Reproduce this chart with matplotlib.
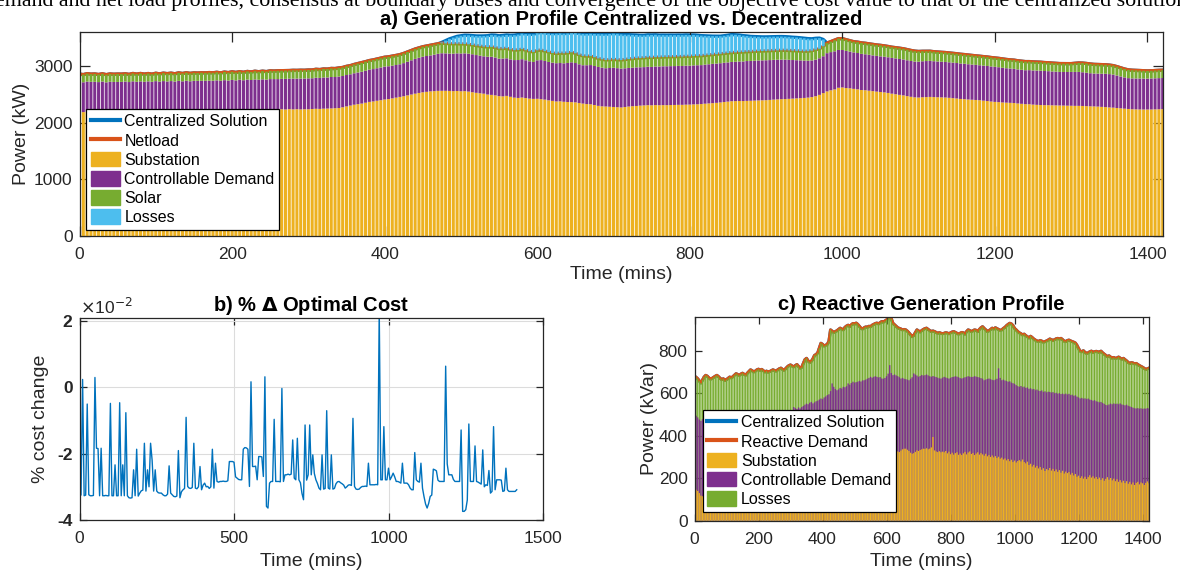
import matplotlib
matplotlib.use("Agg")
import matplotlib.pyplot as plt
import numpy as np
from matplotlib.patches import Patch
from matplotlib.lines import Line2D

plt.rcParams['font.family'] = ['Liberation Sans', 'DejaVu Sans']

# ---------------- data ----------------
times = list(range(0, 1421, 5))          # 5-minute steps, 285 bars
cost_times = list(range(0, 1416, 5))     # panel b

# a) active power components (kW)
a_substation = [
 2193,2190,2196,2200,2194,2198,2202,2196,2200,2204,2199,2203,
 2205,2201,2207,2203,2209,2206,2210,2204,2211,2208,2213,2209,
 2214,2210,2216,2212,2218,2214,2219,2215,2221,2217,2222,2219,
 2224,2220,2226,2222,2228,2224,2230,2226,2231,2228,2233,2230,
 2235,2231,2236,2238,2234,2240,2236,2242,2238,2241,2237,2240,
 2240,2244,2248,2246,2250,2252,2255,2258,2262,2275,2290,2305,
 2320,2330,2340,2355,2370,2378,2390,2400,2412,2420,2432,2445,
 2458,2470,2485,2500,2515,2528,2540,2548,2556,2560,2565,2566,
 2566,2564,2560,2563,2558,2560,2552,2541,2530,2522,2515,2500,
 2494,2485,2472,2468,2476,2460,2445,2440,2447,2438,2428,2423,
 2425,2418,2410,2398,2388,2378,2380,2372,2368,2366,2362,2350,
 2340,2332,2328,2315,2300,2292,2288,2284,2280,2276,2272,2280,
 2288,2294,2298,2304,2308,2312,2310,2314,2311,2313,2312,2315,
 2316,2318,2318,2321,2322,2326,2328,2332,2338,2343,2348,2353,
 2360,2368,2375,2382,2384,2386,2385,2388,2390,2393,2396,2398,
 2400,2405,2410,2414,2418,2420,2424,2428,2432,2436,2440,2446,
 2455,2470,2494,2525,2555,2575,2590,2620,2625,2615,2610,2600,
 2592,2580,2576,2568,2560,2552,2545,2538,2528,2515,2505,2494,
 2485,2472,2460,2450,2447,2452,2455,2458,2455,2452,2450,2447,
 2442,2436,2430,2422,2418,2412,2408,2404,2400,2392,2385,2376,
 2370,2366,2360,2356,2353,2350,2342,2336,2330,2329,2322,2318,
 2315,2312,2312,2310,2308,2306,2305,2303,2302,2300,2300,2298,
 2295,2292,2290,2287,2282,2278,2272,2268,2262,2256,2250,2245,
 2240,2238,2236,2235,2235,2236,2238,2240,2242]
a_controllable = [
 530,527,533,525,531,522,528,520,526,519,524,521,
 525,520,527,522,524,519,523,521,526,520,525,522,
 524,520,526,522,525,521,523,527,522,526,523,525,
 527,523,528,525,530,526,531,527,533,529,534,531,
 534,532,537,535,539,537,541,539,543,541,545,543,
 546,544,549,548,552,550,555,552,556,553,555,553,
 556,560,563,566,569,572,575,579,582,580,578,577,
 577,585,595,605,615,622,628,633,636,645,655,664,
 662,660,662,665,668,668,670,671,668,665,661,668,
 674,670,663,668,665,662,664,670,678,668,660,653,
 680,691,684,678,675,676,677,680,690,704,695,685,
 678,686,693,690,688,683,677,685,693,690,686,684,
 682,680,682,678,677,680,678,682,684,686,688,687,
 687,688,687,689,688,689,690,688,690,692,694,694,
 694,693,693,694,695,698,700,704,704,705,706,706,
 706,704,703,701,700,697,690,682,675,668,660,652,
 648,646,647,652,676,675,674,668,662,656,649,645,
 642,639,636,634,632,631,630,630,631,632,634,635,
 635,634,633,633,634,636,637,637,634,632,630,629,
 628,628,627,627,626,624,622,620,618,619,620,620,
 620,617,613,609,606,604,602,601,600,602,604,606,
 606,604,601,598,596,594,594,596,598,600,600,596,
 590,585,581,583,586,589,589,585,575,563,553,545,
 545,546,547,547,547,548,549,550,550]
a_solar = [
 138,135,140,136,139,134,137,135,138,136,139,137,
 137,135,138,136,139,136,138,135,139,137,140,138,
 140,137,141,138,142,139,141,138,142,140,143,140,
 142,139,143,140,144,141,143,140,144,142,145,142,
 144,142,146,143,147,144,146,143,147,145,148,146,
 148,146,149,147,150,148,151,149,152,150,153,152,
 155,157,158,160,161,162,163,164,165,166,168,169,
 170,171,172,173,174,175,176,176,177,177,177,177,
 176,175,174,170,168,166,165,164,166,168,170,172,
 174,176,177,176,177,175,176,178,177,178,177,177,
 176,176,174,173,172,170,175,177,178,176,172,168,
 165,160,158,155,150,148,146,146,148,150,152,155,
 158,160,162,163,164,165,165,165,165,164,165,166,
 165,166,165,166,165,166,165,166,165,165,165,166,
 165,166,165,166,165,165,166,165,165,166,165,165,
 165,166,165,165,164,165,165,165,166,165,165,168,
 172,178,168,176,178,185,195,200,200,198,190,188,
 192,194,194,194,194,193,194,192,190,189,189,189,
 189,188,186,184,180,176,172,170,168,167,166,166,
 165,164,164,163,162,162,161,160,160,159,158,158,
 157,156,156,155,154,154,153,152,152,151,151,150,
 150,149,149,148,148,147,147,147,146,152,158,162,
 164,163,162,161,160,159,159,158,156,152,148,146,
 145,143,140,138,136,136,137,138,138]
a_losses = [0] * 95 + [
 15,
 50,85,110,130,145,155,160,165,172,180,190,200,
 210,218,226,232,235,250,265,272,276,285,300,310,
 305,312,320,330,340,353,350,348,345,348,362,375,
 388,392,395,410,430,445,454,456,457,458,454,440,
 430,420,410,402,398,398,400,395,390,388,385,383,
 382,380,380,378,376,372,365,355,345,335,325,318,
 312,312,315,318,312,302,290,278,268,260,254,250,
 248,246,245,244,243,241,240,238,236,234,230,222,
 210,200,188,120] + [0] * 89

# b) % change of optimal cost (x 10^-2)
cost_change = [
 -2.30,-3.25,0.23,-3.27,-3.25,-0.51,-3.24,-3.27,-3.27,-3.26,0.29,-1.84,
 -1.85,-3.27,-1.84,-3.27,-3.27,-3.26,-3.27,-3.27,-0.49,-3.27,-3.27,-2.34,
 -3.27,-3.27,-0.47,-3.27,-2.34,-3.27,-0.77,-3.27,-3.33,-3.34,-3.33,-2.49,
 -3.27,-1.87,-3.28,-3.19,-3.12,-3.10,-1.69,-3.13,-2.49,-3.00,-1.69,-2.20,
 -3.13,-2.49,-3.13,-3.18,-3.19,-3.19,-3.24,-3.27,-3.27,-3.22,-2.37,-3.19,
 -3.24,-3.29,-3.30,-3.28,-1.91,-3.33,-3.15,-3.09,-3.05,-0.91,-2.99,-3.04,
 -3.05,-3.02,-1.69,-3.04,-3.06,-3.00,-2.39,-3.09,-2.95,-2.89,-3.00,-2.99,
 -3.05,-3.00,-1.87,-3.04,-2.29,-2.84,-2.86,-2.84,-2.84,-2.83,-2.84,-2.84,
 -2.82,-2.24,-2.24,-2.24,-2.26,-2.70,-2.74,-2.78,-2.79,-2.79,-1.87,-1.82,
 -1.83,-1.87,-2.99,0.16,-2.39,-2.39,-2.38,-2.79,-2.09,-2.09,-2.10,-2.69,
 0.31,-3.59,-3.64,-2.89,-2.84,-2.84,-0.97,-2.84,-2.84,-2.84,-2.85,-0.04,
 -2.84,-2.64,-2.64,-2.62,-2.64,-2.62,-1.59,-2.74,-2.79,-1.54,-2.79,-2.88,
 -3.20,-3.39,-1.14,-2.80,-2.64,-1.14,-2.64,-2.04,-2.60,-2.79,-2.90,-3.04,
 -3.09,-2.04,-3.07,-3.05,-0.71,-3.04,-3.07,-2.04,-3.07,-3.05,-2.91,-2.85,
 -2.84,-2.88,-2.91,-2.95,-3.04,-3.00,-2.95,-2.94,-2.96,-0.94,-2.99,-3.07,
 -3.08,-3.07,-3.02,-2.99,-2.99,-2.98,-2.99,-2.29,-2.94,-2.94,-2.94,-2.94,
 -2.93,-2.94,2.30,-2.79,-2.79,-1.19,-2.79,-2.79,-2.44,-2.79,-2.70,-2.59,
 -2.70,-2.84,-2.84,-2.86,-2.89,-2.29,-2.89,-2.89,-2.89,-2.94,-3.04,-3.09,
 -3.09,-1.97,-2.79,-2.84,-2.86,-2.29,-3.04,-3.30,-3.52,-3.64,-3.50,-3.29,
 -3.25,-2.47,-2.49,-2.52,-2.80,-2.84,-2.84,-2.84,-2.84,0.63,-2.31,-2.64,
 -2.64,-2.64,-2.78,-2.84,-2.84,-2.84,-2.84,-1.29,-3.74,-3.74,-3.69,-3.40,
 -1.11,-2.84,-2.84,-2.84,-1.77,-2.84,-2.86,-2.89,-2.92,-1.89,-3.00,-2.94,
 -2.96,-2.51,-3.19,-3.14,-1.19,-3.09,-2.79,-2.79,-2.79,-2.80,-3.14,-3.12,
 -2.44,-3.09,-3.14,-3.14,-3.14,-3.14,-3.14,-3.09]

# c) reactive power, stacked levels (kVar)
c_substation_top = [
 150,146,140,130,118,115,120,124,128,130,132,135,
 138,141,137,144,146,143,149,151,148,155,153,158,
 161,157,165,163,168,166,171,169,174,172,177,175,
 181,178,184,186,183,189,192,188,195,193,198,196,
 201,199,205,203,208,206,211,214,210,217,215,220,
 223,219,226,229,225,232,235,231,238,241,237,244,
 247,243,250,253,249,256,259,262,258,265,268,264,
 271,274,270,277,280,276,283,286,282,289,292,288,
 295,298,294,301,304,300,307,310,306,313,316,312,
 318,321,317,323,326,322,328,331,327,333,330,326,
 330,333,336,331,328,325,322,326,323,330,336,339,
 339,334,328,320,315,318,324,331,328,333,336,339,
 338,341,336,339,345,394,331,326,323,327,322,325,
 322,328,317,325,313,320,311,318,322,310,316,309,
 317,324,312,321,326,314,319,309,316,322,311,318,
 312,306,315,303,309,300,307,298,304,295,301,292,
 297,288,293,284,290,280,287,276,283,274,281,285,
 279,288,276,270,278,262,268,255,263,250,258,246,
 253,240,247,234,243,238,248,236,244,233,241,230,
 238,226,235,222,231,224,229,217,225,213,220,207,
 212,201,209,198,207,196,205,214,203,209,199,206,
 196,203,192,200,188,197,205,193,201,190,198,186,
 195,183,191,180,188,177,186,174,183,171,180,168,
 178,183,171,180,176,168,178,185,176]
c_controllable_top = [
 498,494,486,476,470,478,484,486,482,488,485,487,
 484,489,486,491,488,485,490,487,492,489,494,491,
 488,493,490,495,492,497,494,491,496,493,498,495,
 492,497,500,496,501,498,503,500,497,502,505,501,
 506,503,508,511,507,512,509,514,511,508,513,516,
 512,518,535,530,526,533,528,535,540,546,551,548,
 555,559,552,557,562,565,570,575,572,580,585,591,
 595,610,646,630,620,614,618,625,622,630,628,633,
 646,640,648,654,650,652,654,658,655,660,661,664,
 668,672,677,673,677,680,677,674,676,669,668,672,
 680,692,732,695,685,688,684,680,675,669,672,668,
 666,664,661,668,675,693,688,683,677,681,686,683,
 685,688,684,680,677,681,678,676,673,670,669,673,
 677,674,671,669,672,676,677,680,678,675,671,669,
 672,675,677,680,678,676,677,680,678,676,674,671,
 668,661,664,667,669,666,663,661,664,668,717,672,
 661,664,660,657,654,656,650,647,644,638,633,630,
 634,628,631,625,627,621,623,618,620,614,617,612,
 610,613,606,609,604,607,606,603,605,600,602,598,
 600,596,598,595,598,594,597,591,593,588,590,584,
 580,575,578,574,576,572,575,570,568,565,567,562,
 560,557,559,554,550,545,543,547,551,548,552,549,
 551,548,552,547,545,543,546,541,538,535,532,529,
 528,530,527,529,526,528,527,530,528]
c_reactive_demand = [
 680,675,668,658,648,662,676,684,680,672,666,670,
 675,680,684,678,670,664,668,660,664,670,676,672,
 678,685,692,688,684,690,694,689,685,694,702,710,
 706,700,704,710,713,708,712,706,700,704,699,702,
 706,710,707,704,710,715,718,712,708,716,724,730,
 733,728,724,730,735,726,718,722,740,758,764,752,
 745,750,762,778,782,790,812,835,830,822,826,830,
 845,898,892,886,890,894,900,906,902,898,910,916,
 920,914,922,928,925,930,924,915,906,902,908,912,
 910,915,913,920,924,928,930,926,932,937,934,940,
 945,952,960,950,929,922,915,908,905,902,898,900,
 898,892,884,875,866,872,885,898,893,888,895,900,
 904,906,900,895,890,893,890,886,882,885,882,880,
 882,885,883,880,884,888,890,886,882,878,882,886,
 884,878,890,898,895,890,894,898,896,890,900,908,
 913,905,898,890,894,900,906,902,908,904,900,896,
 898,905,910,918,924,929,926,918,905,898,890,884,
 880,874,878,871,866,860,868,862,855,850,846,843,
 848,845,840,843,846,850,855,852,848,852,856,858,
 855,858,852,845,843,848,850,846,843,840,836,825,
 810,798,795,800,792,787,790,795,798,792,795,797,
 795,792,798,790,784,778,772,776,770,765,768,764,
 766,770,765,760,764,758,752,745,740,744,742,738,
 740,735,730,726,722,717,712,715,718]

legend_a = ['Centralized Solution', 'Netload', 'Substation',
            'Controllable Demand', 'Solar', 'Losses']
legend_c = ['Centralized Solution', 'Reactive Demand', 'Substation',
            'Controllable Demand', 'Losses']

# ---------------- style ----------------
C_BLUE, C_ORANGE = '#0072BD', '#D95319'
C_YELLOW, C_PURPLE, C_GREEN, C_LBLUE = '#EDB120', '#7E2F8E', '#77AC30', '#4DBEEE'
AX_COL = '#262626'
TICK_FS, LAB_FS, TIT_FS, LEG_FS = 12.5, 14, 14.5, 11.5

W, H = 1180, 571
fig = plt.figure(figsize=(W / 100, H / 100), dpi=100)


def px_axes(l, t, r, b):
    return fig.add_axes([l / W, 1 - b / H, (r - l) / W, (b - t) / H])


def style(ax, ticklen=6):
    for s in ax.spines.values():
        s.set_color(AX_COL)
        s.set_linewidth(0.9)
    ax.tick_params(direction='in', top=True, right=True, length=ticklen,
                   width=0.9, color=AX_COL, labelcolor=AX_COL,
                   labelsize=TICK_FS, pad=5)
    ax.tick_params(axis='x', pad=8)


def bars(ax, xs, h, bottom=None, color=None, z=2):
    ax.bar(xs, h, bottom=bottom, width=4.0, color=color, linewidth=0,
           zorder=z, snap=False)


def make_legend(ax, handles, labels, anchor):
    lg = ax.legend(handles, labels, loc='lower left', bbox_to_anchor=anchor,
                   fontsize=LEG_FS, frameon=True, fancybox=False, framealpha=1,
                   edgecolor='black', borderpad=0.3, labelspacing=0.22,
                   handlelength=1.8, handleheight=1.0, handletextpad=0.3,
                   borderaxespad=0)
    lg.get_frame().set_linewidth(0.9)
    lg.set_zorder(5)
    return lg


fig.text(-16 / W, 1 - 6 / H,
         'demand and net load profiles, consensus at boundary buses and convergence of the '
         'objective cost value to that of the centralized solution.',
         family='Liberation Serif', fontsize=15.8, ha='left', va='baseline', color='black')

x = np.array(times)
sub = np.array(a_substation)
ctrl = np.array(a_controllable)
sol = np.array(a_solar)
los = np.array(a_losses)

# ---------- a) ----------
ax = px_axes(79.5, 32.3, 1162.7, 236)
ax.plot(x, sub + ctrl + sol + los, color=C_BLUE, lw=2.4, zorder=1)
ax.plot(x, sub + ctrl + sol, color=C_ORANGE, lw=2.4, zorder=1.5)
bars(ax, x, sub, color=C_YELLOW)
bars(ax, x, ctrl, bottom=sub, color=C_PURPLE)
bars(ax, x, sol, bottom=sub + ctrl, color=C_GREEN)
bars(ax, x, los, bottom=sub + ctrl + sol, color=C_LBLUE)
ax.set_xlim(0, 1420)
ax.set_ylim(0, 3600)
ax.set_xticks(range(0, 1401, 200))
ax.set_yticks([0, 1000, 2000, 3000])
style(ax, 7)
ax.set_title('a) Generation Profile Centralized vs. Decentralized',
             fontsize=TIT_FS, fontweight='bold', pad=5, color='black')
ax.set_xlabel('Time (mins)', fontsize=LAB_FS, color=AX_COL)
ax.set_ylabel('Power (kW)', fontsize=LAB_FS, color=AX_COL)
ax.xaxis.set_label_coords(0.5, -0.145)
ax.yaxis.set_label_coords(-0.046, 0.5)
handles = [Line2D([], [], color=C_BLUE, lw=3), Line2D([], [], color=C_ORANGE, lw=3),
           Patch(color=C_YELLOW), Patch(color=C_PURPLE), Patch(color=C_GREEN),
           Patch(color=C_LBLUE)]
make_legend(ax, handles, legend_a, (0.006, 0.03))

# ---------- b) ----------
axb = px_axes(79.5, 318, 543, 520)
axb.plot(cost_times, cost_change, color=C_BLUE, lw=1.0)
axb.set_xlim(0, 1500)
axb.set_ylim(-4, 2.08)
axb.set_xticks([0, 500, 1000, 1500])
axb.set_yticks([-4, -2, 0, 2])
axb.set_yticklabels(['-4', '-2', '0', '2'])
axb.grid(True, color='#dcdcdc', lw=0.8)
axb.set_axisbelow(True)
style(axb, 5)
for lab in axb.get_yticklabels():
    lab.set_fontweight('bold')
axb.set_title('b) % $\\mathbf{\\Delta}$ Optimal Cost', fontsize=TIT_FS,
              fontweight='bold', pad=5, color='black')
axb.text(0.0, 1.005, '$\\times$10$^{-2}$', transform=axb.transAxes,
         fontsize=TICK_FS, color=AX_COL, ha='left', va='bottom')
axb.set_xlabel('Time (mins)', fontsize=LAB_FS, color=AX_COL)
axb.set_ylabel('% cost change', fontsize=LAB_FS, color=AX_COL)
axb.xaxis.set_label_coords(0.5, -0.165)
axb.yaxis.set_label_coords(-0.066, 0.5)

# ---------- c) ----------
axc = px_axes(694.5, 316.7, 1149, 520.7)
qt = np.array(c_reactive_demand)
qc = np.array(c_controllable_top)
qs = np.array(c_substation_top)
axc.plot(x, qt, color=C_BLUE, lw=2.2, zorder=1)
axc.plot(x, qt, color=C_ORANGE, lw=2.2, zorder=1.5)
bars(axc, x, qt, color=C_GREEN, z=2)
bars(axc, x, qc, color=C_PURPLE, z=2.1)
bars(axc, x, qs, color=C_YELLOW, z=2.2)
axc.set_xlim(0, 1420)
axc.set_ylim(0, 960)
axc.set_xticks(range(0, 1401, 200))
axc.set_yticks([0, 200, 400, 600, 800])
style(axc, 5)
axc.set_title('c) Reactive Generation Profile', fontsize=TIT_FS,
              fontweight='bold', pad=5, color='black')
axc.set_xlabel('Time (mins)', fontsize=LAB_FS, color=AX_COL)
axc.set_ylabel('Power (kVar)', fontsize=LAB_FS, color=AX_COL)
axc.xaxis.set_label_coords(0.5, -0.16)
axc.yaxis.set_label_coords(-0.080, 0.5)
handles_c = [Line2D([], [], color=C_BLUE, lw=3), Line2D([], [], color=C_ORANGE, lw=3),
             Patch(color=C_YELLOW), Patch(color=C_PURPLE), Patch(color=C_GREEN)]
make_legend(axc, handles_c, legend_c, (0.018, 0.044))

fig.savefig('out.png', dpi=100)
